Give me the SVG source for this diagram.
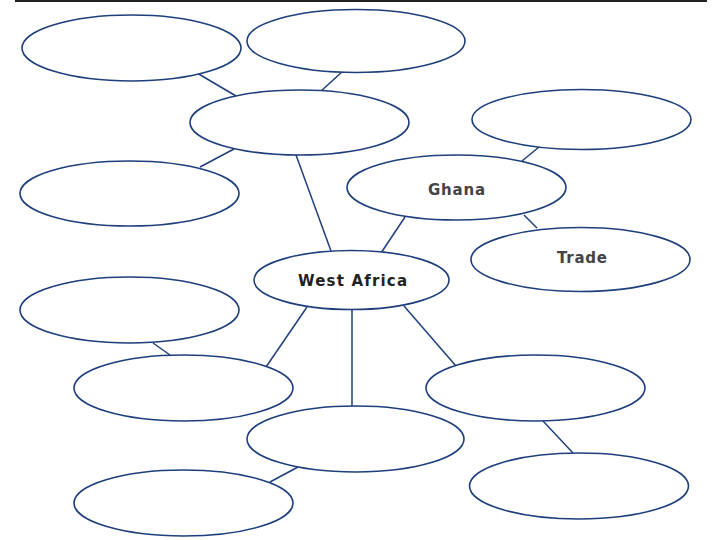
<svg xmlns="http://www.w3.org/2000/svg" width="720" height="540" viewBox="0 0 720 540">
<style>
.n{fill:#fff;stroke:#1e3f7c;stroke-width:1.6}
.c line{stroke:#1e3f7c;stroke-width:1.5}
.t{font-family:"DejaVu Sans","Liberation Sans",Arial,sans-serif;fill:#444;text-anchor:middle;font-weight:bold;font-size:15px}
</style>
<rect width="720" height="540" fill="#fff"/>
<line x1="15" y1="1" x2="707" y2="1" stroke="#222" stroke-width="2"/>
<g id="connectors" class="c">
<line x1="197" y1="73" x2="236" y2="96"/>
<line x1="343" y1="71" x2="320" y2="92"/>
<line x1="200" y1="167" x2="234" y2="149"/>
<line x1="296" y1="155" x2="331" y2="251"/>
<line x1="405" y1="217" x2="381" y2="253"/>
<line x1="539" y1="147" x2="522" y2="161"/>
<line x1="524" y1="215" x2="537" y2="228"/>
<line x1="153" y1="343" x2="170" y2="355"/>
<line x1="307" y1="307" x2="266" y2="367"/>
<line x1="352" y1="310" x2="352" y2="406"/>
<line x1="404" y1="306" x2="456" y2="366"/>
<line x1="298" y1="467" x2="270" y2="482"/>
<line x1="543" y1="421" x2="573" y2="453"/>
</g>
<g id="n1"><ellipse class="n" cx="131.5" cy="48" rx="109.5" ry="33"/></g>
<g id="n2"><ellipse class="n" cx="356" cy="41" rx="109" ry="31.5"/></g>
<g id="n3"><ellipse class="n" cx="299.5" cy="122.5" rx="109.5" ry="32.5"/></g>
<g id="n4"><ellipse class="n" cx="581.5" cy="119.5" rx="109.5" ry="30"/></g>
<g id="n5"><ellipse class="n" cx="129.5" cy="193.5" rx="109.5" ry="32.5"/></g>
<g id="ghana"><ellipse class="n" cx="456.5" cy="187.5" rx="109.5" ry="32.5"/><text class="t" x="456.5" y="195" textLength="57" lengthAdjust="spacing">Ghana</text></g>
<g id="trade"><ellipse class="n" cx="580.5" cy="259.5" rx="109.5" ry="32" /><text class="t" x="582" y="263" textLength="50" lengthAdjust="spacing">Trade</text></g>
<g id="westafrica"><ellipse class="n" cx="351.5" cy="280" rx="97.5" ry="29.5"/><text class="t" x="352.5" y="286" textLength="109" lengthAdjust="spacing" style="fill:#222">West Africa</text></g>
<g id="n9"><ellipse class="n" cx="129.5" cy="310" rx="109.5" ry="33"/></g>
<g id="n10"><ellipse class="n" cx="183.5" cy="388" rx="109.5" ry="33"/></g>
<g id="n11"><ellipse class="n" cx="535.5" cy="388" rx="109.5" ry="33"/></g>
<g id="n12"><ellipse class="n" cx="355.5" cy="439" rx="108.5" ry="33"/></g>
<g id="n13"><ellipse class="n" cx="183.5" cy="503" rx="109.5" ry="33"/></g>
<g id="n14"><ellipse class="n" cx="579" cy="486" rx="109.5" ry="33"/></g>
</svg>
